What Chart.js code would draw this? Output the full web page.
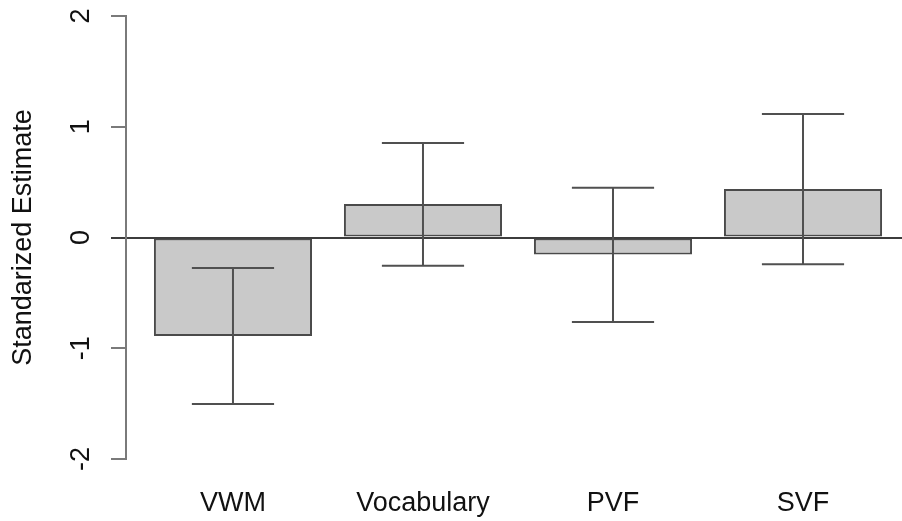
<!DOCTYPE html>
<html>
<head>
<meta charset="utf-8">
<script src="https://cdn.jsdelivr.net/npm/chart.js@4/dist/chart.umd.min.js"></script>
<style>
  html, body { margin: 0; padding: 0; background: #ffffff; overflow: hidden; }
  #wrap { width: 902px; height: 521px; }
</style>
</head>
<body>
<div id="wrap"><canvas id="c" width="902" height="521"></canvas></div>
<script>
// ---- data ----
const categories = ["VWM", "Vocabulary", "PVF", "SVF"];
const estimates  = [-0.889, 0.302, -0.154, 0.438];
const ciLower    = [-1.503, -0.254, -0.762, -0.242];
const ciUpper    = [-0.275, 0.853, 0.449, 1.115];
const yTicks     = [-2, -1, 0, 1, 2];
const yTitle     = "Standarized Estimate";

const FONT = "'Liberation Sans', Arial, Helvetica, sans-serif";

const errorBarPlugin = {
  id: 'errorBars',
  afterDatasetsDraw(chart) {
    const meta = chart.getDatasetMeta(0);
    const ys = chart.scales.y;
    const ctx = chart.ctx;
    ctx.save();
    ctx.strokeStyle = '#505050';
    ctx.lineWidth = 2;
    ctx.lineCap = 'butt';
    meta.data.forEach((bar, i) => {
      const x = bar.x;
      const half = bar.width * 0.26;
      const yLo = ys.getPixelForValue(ciLower[i]);
      const yHi = ys.getPixelForValue(ciUpper[i]);
      ctx.beginPath();
      ctx.moveTo(x, yLo); ctx.lineTo(x, yHi);
      ctx.moveTo(x - half, yLo); ctx.lineTo(x + half, yLo);
      ctx.moveTo(x - half, yHi); ctx.lineTo(x + half, yHi);
      ctx.stroke();
    });
    ctx.restore();
  }
};

new Chart(document.getElementById('c'), {
  type: 'bar',
  data: {
    datasets: [{
      data: estimates.map((v, i) => ({ x: i, y: v })),
      backgroundColor: '#c9c9c9',
      borderColor: '#4a4a4a',
      borderWidth: 2,
      borderSkipped: false,
      categoryPercentage: 1,
      barPercentage: 0.832
    }]
  },
  options: {
    responsive: false,
    animation: false,
    devicePixelRatio: 1,
    layout: { padding: { top: 16, right: 0, bottom: 0, left: 0 } },
    plugins: { legend: { display: false }, tooltip: { enabled: false } },
    scales: {
      x: {
        type: 'linear',
        offset: false,
        min: -0.563,
        max: 3.521,
        afterBuildTicks: (s) => { s.ticks = categories.map((c, i) => ({ value: i })); },
        afterFit: (s) => { s.height = 62; s.paddingLeft = 0; s.paddingRight = 0; },
        grid: { display: false, drawTicks: false, offset: false },
        border: { display: false },
        ticks: {
          padding: 28,
          autoSkip: false,
          maxRotation: 0,
          minRotation: 0,
          color: '#111',
          font: { family: FONT, size: 27 },
          callback: (v) => categories[v]
        }
      },
      y: {
        min: -2,
        max: 2,
        afterBuildTicks: (s) => { s.ticks = yTicks.map(v => ({ value: v })); },
        afterFit: (s) => { s.width = 126; s.paddingTop = 0; s.paddingBottom = 0; },
        grid: {
          drawOnChartArea: true,
          drawTicks: true,
          tickLength: 15,
          lineWidth: 2,
          tickWidth: 2,
          color: (c) => (c.tick && c.tick.value === 0) ? '#3c3c3c' : 'rgba(0,0,0,0)',
          tickColor: (c) => (c.tick && c.tick.value === 0) ? '#3c3c3c' : '#7a7a7a'
        },
        border: { display: true, color: '#7a7a7a', width: 2 },
        ticks: {
          padding: 17,
          crossAlign: 'center',
          minRotation: 90,
          maxRotation: 90,
          color: '#111',
          font: { family: FONT, size: 27 },
          callback: (v) => String(v)
        },
        title: {
          display: true,
          text: yTitle,
          color: '#111',
          font: { family: FONT, size: 27 },
          padding: { top: 7, bottom: 0 }
        }
      }
    }
  },
  plugins: [errorBarPlugin]
});
</script>
</body>
</html>
